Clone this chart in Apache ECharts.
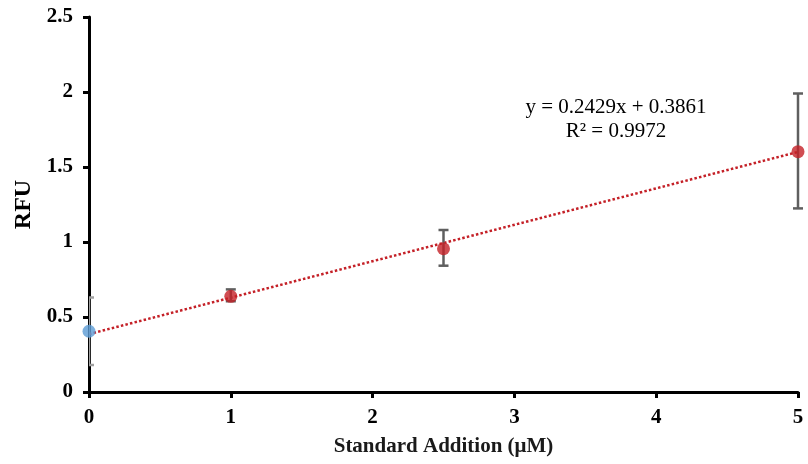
<!DOCTYPE html>
<html>
<head>
<meta charset="utf-8">
<script src="https://cdn.jsdelivr.net/npm/echarts@6/dist/echarts.min.js"></script>
<style>html,body{margin:0;padding:0;background:#fff;}#c{width:808px;height:464px;}</style>
</head>
<body>
<div id="c"></div>
<script>
// Data
var blankX = [0];
var blankY = [0.405];
var blankLow = [0.18];
var blankHigh = [0.63];

var stdX = [1, 2.5, 5];
var stdY = [0.638, 0.955, 1.602];
var stdLow = [0.605, 0.842, 1.224];
var stdHigh = [0.684, 1.08, 1.99];

var slope = 0.2429;
var intercept = 0.3861;
var trendRange = [0, 5];
var eqLines = ['y = 0.2429x + 0.3861', 'R² = 0.9972'];

var FONT = '"Liberation Serif", "Times New Roman", serif';

function errRender(color, capLeft) {
  return function (params, api) {
    var x = api.value(0), lo = api.value(1), hi = api.value(2);
    var pHi = api.coord([x, hi]);
    var pLo = api.coord([x, lo]);
    var cap = 5;
    var st = { stroke: color, lineWidth: 2.5 };
    return {
      type: 'group',
      children: [
        { type: 'line', shape: { x1: pHi[0], y1: pHi[1], x2: pLo[0], y2: pLo[1] }, style: st },
        { type: 'line', shape: { x1: pHi[0] - (capLeft ? cap : 0), y1: pHi[1], x2: pHi[0] + cap, y2: pHi[1] }, style: st },
        { type: 'line', shape: { x1: pLo[0] - (capLeft ? cap : 0), y1: pLo[1], x2: pLo[0] + cap, y2: pLo[1] }, style: st }
      ]
    };
  };
}

var chart = echarts.init(document.getElementById('c'), null, { renderer: 'canvas' });

var trendData = trendRange.map(function (x) { return [x, intercept + slope * x]; });

chart.setOption({
  animation: false,
  backgroundColor: '#ffffff',
  grid: { left: 89, right: 10, top: 17, bottom: 72, containLabel: false },
  xAxis: {
    type: 'value', min: 0, max: 5, interval: 1,
    name: 'Standard Addition (μM)', nameLocation: 'middle', nameGap: 44,
    nameTextStyle: { fontFamily: FONT, fontWeight: 'bold', fontSize: 21, color: '#1a1a1a' },
    axisLine: { lineStyle: { color: '#000', width: 3 } },
    axisTick: { show: true, inside: false, length: 6, lineStyle: { color: '#000', width: 3 } },
    axisLabel: { fontFamily: FONT, fontWeight: 'bold', fontSize: 21, color: '#000', margin: 15 },
    splitLine: { show: false }
  },
  yAxis: {
    type: 'value', min: 0, max: 2.5, interval: 0.5,
    name: 'RFU', nameLocation: 'middle', nameGap: 48, nameRotate: 90,
    nameTextStyle: { fontFamily: FONT, fontWeight: 'bold', fontSize: 24, color: '#000' },
    axisLine: { show: true, lineStyle: { color: '#000', width: 3 } },
    axisTick: { show: true, inside: false, length: 6, lineStyle: { color: '#000', width: 3 } },
    axisLabel: { fontFamily: FONT, fontWeight: 'bold', fontSize: 21, color: '#000', margin: 16 },
    splitLine: { show: false }
  },
  graphic: [{
    type: 'text', x: 616, y: 95, z: 100,
    style: { text: eqLines.join('\n'), align: 'center', verticalAlign: 'top', fontFamily: FONT, fontSize: 21, lineHeight: 24, fill: '#000' }
  }],
  series: [
    {
      type: 'line', data: trendData, showSymbol: false, symbol: 'none',
      lineStyle: { color: '#C42027', width: 2.5, type: [2.5, 2.2] }, z: 2
    },
    {
      type: 'custom', clip: true,
      renderItem: errRender('#A0A0A0', true),
      data: blankX.map(function (x, i) { return [x, blankLow[i], blankHigh[i]]; }), z: 3
    },
    {
      type: 'custom', clip: false,
      renderItem: errRender('#5F5F5F', true),
      data: stdX.map(function (x, i) { return [x, stdLow[i], stdHigh[i]]; }), z: 3
    },
    {
      type: 'scatter', symbol: 'circle', symbolSize: 13, clip: false,
      itemStyle: { color: '#5B9BD5' },
      data: blankX.map(function (x, i) { return [x, blankY[i]]; }), z: 5
    },
    {
      type: 'scatter', symbol: 'circle', symbolSize: 13, clip: false,
      itemStyle: { color: '#C42027' },
      data: stdX.map(function (x, i) { return [x, stdY[i]]; }), z: 5
    }
  ]
});
</script>
</body>
</html>
